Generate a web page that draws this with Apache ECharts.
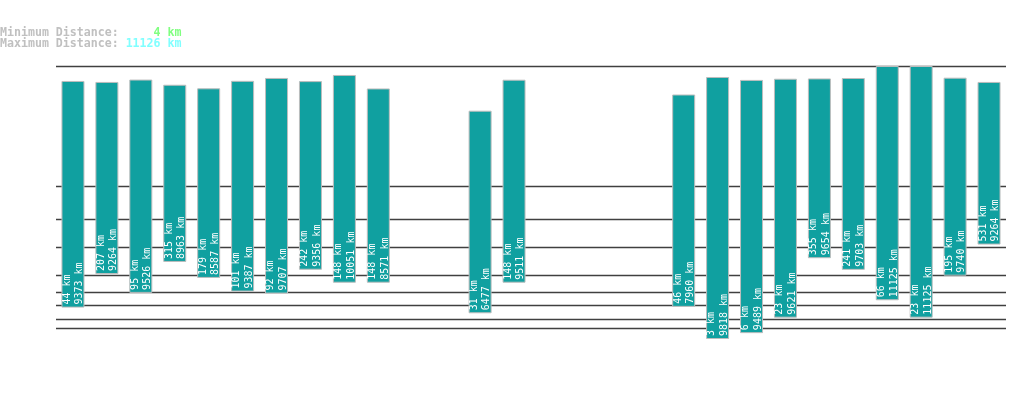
<!DOCTYPE html>
<html>
<head>
<meta charset="utf-8">
<script src="https://cdn.jsdelivr.net/npm/echarts@6/dist/echarts.min.js"></script>
<style>
  html, body { margin: 0; padding: 0; background: #fff; }
  #chart { width: 1019px; height: 402px; }
</style>
</head>
<body>
<div id="chart"></div>
<script>
// 每个位置一根柱子，null 为空位
var slots = ['1','2','3','4','5','6','7','8','9','10','11','12','13','14',
             '15','16','17','18','19','20','21','22','23','24','25','26','27','28'];
var minKm = [44, 207, 95, 315, 179, 101, 92, 242, 148, 148, null, null, 31, 148,
             null, null, null, null, 46, 3, 6, 23, 355, 241, 66, 23, 195, 531];
var maxKm = [9373, 9264, 9526, 8963, 8587, 9387, 9707, 9356, 10051, 8571, null, null, 6477, 9511,
             null, null, null, null, 7960, 9818, 9489, 9621, 9654, 9703, 11125, 11125, 9740, 9264];
var gridKm = [10, 20, 50, 100, 200, 500, 1000, 2000, 11126];
var minDistance = 4;
var maxDistance = 11126;

// 幂比例尺 (exponent 0.3)
var EXP = 0.3;
function pw(v) { return Math.pow(v, EXP); }

var baseData = minKm.map(function (v) { return v == null ? null : pw(v); });
var spanData = maxKm.map(function (v, i) { return v == null ? null : pw(v) - pw(minKm[i]); });

var HEAD_FONT = 'bold 11.6px "DejaVu Sans Mono"';

var myChart = echarts.init(document.getElementById('chart'));
var option = {
  animation: false,
  backgroundColor: '#fff',
  grid: { left: 56, right: 13, top: 66, bottom: 37.65 },
  xAxis: {
    type: 'category',
    data: slots,
    show: false
  },
  yAxis: {
    type: 'value',
    min: 0,
    max: pw(maxDistance),
    show: false,
    splitLine: { show: false }
  },
  graphic: [{
    type: 'text',
    left: 0,
    top: 27,
    style: {
      text: '{a|Minimum Distance:} {g|' + ('     ' + minDistance + ' km').slice(-8) + '}\n' +
            '{a|Maximum Distance:} {c|' + ('     ' + maxDistance + ' km').slice(-8) + '}',
      font: HEAD_FONT,
      lineHeight: 11,
      rich: {
        a: { fill: '#c0c0c0', font: HEAD_FONT, lineHeight: 11 },
        g: { fill: '#80ff80', font: HEAD_FONT, lineHeight: 11 },
        c: { fill: '#80ffff', font: HEAD_FONT, lineHeight: 11 }
      }
    }
  }],
  series: [{
    // 网格线 (画在柱子后面)
    type: 'line',
    data: [],
    z: 1,
    silent: true,
    markLine: {
      z: 1,
      silent: true,
      symbol: 'none',
      animation: false,
      label: { show: false },
      lineStyle: { color: '#404040', width: 1.3, type: 'solid' },
      data: gridKm.map(function (v) { return { yAxis: pw(v) }; })
    }
  }, {
    type: 'bar',
    stack: 'd',
    data: baseData,
    barWidth: 23,
    z: 3,
    silent: true,
    itemStyle: { color: 'transparent' }
  }, {
    type: 'bar',
    stack: 'd',
    data: spanData,
    barWidth: 23,
    z: 3,
    itemStyle: { color: '#10a0a0', borderColor: '#bdbdbd', borderWidth: 1 },
    label: {
      show: true,
      position: 'insideBottom',
      rotate: 90,
      align: 'left',
      verticalAlign: 'middle',
      distance: 3,
      offset: [0, 0.5],
      color: '#ffffff',
      fontFamily: 'DejaVu Sans Mono',
      fontSize: 10,
      lineHeight: 12.5,
      formatter: function (p) {
        return minKm[p.dataIndex] + ' km\n' + maxKm[p.dataIndex] + ' km';
      }
    }
  }]
};
myChart.setOption(option);
</script>
</body>
</html>
